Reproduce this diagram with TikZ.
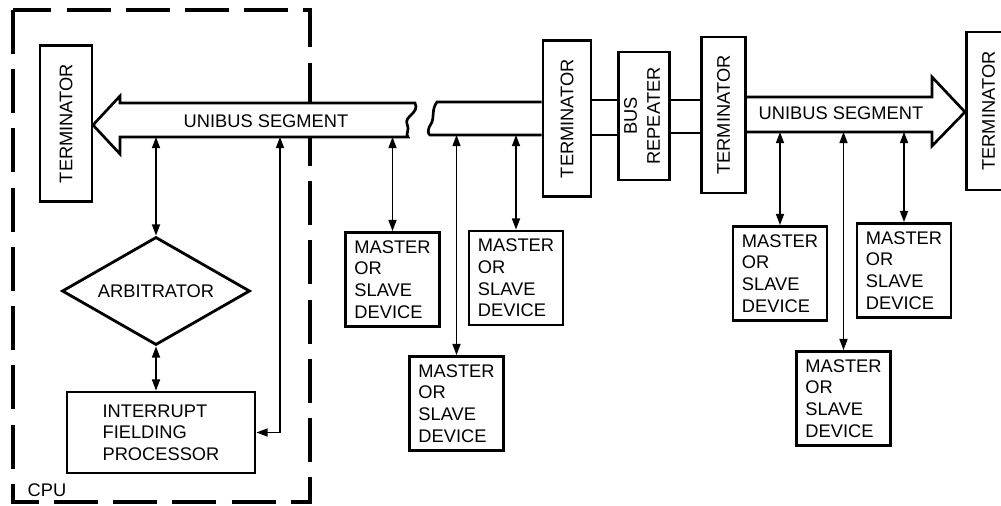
\documentclass[tikz,border=0pt]{standalone}
\usepackage{fontspec}
\setmainfont{Liberation Sans}
\usepackage{graphicx}
\usetikzlibrary{shapes.geometric,arrows.meta}

\tikzset{
  box/.style={draw, line width=2pt, fill=white, inner sep=2pt},
  term/.style={box, minimum width=1.2cm, minimum height=3.9cm},
  dev/.style={box, align=left, minimum width=2.35cm, minimum height=2.35cm},
  tap/.style={line width=1.2pt, {Triangle[length=2.8mm,width=2mm]}-{Triangle[length=2.8mm,width=2mm]}},
  bus/.style={line width=1.9pt, line join=miter},
}

\begin{document}
\begin{tikzpicture}[x=0.025cm, y=-0.025cm, font=\fontsize{13}{15.4}\selectfont]
        \useasboundingbox (0,0) rectangle (1001,506);

        % rails of the three bus pieces
        \coordinate (b1) at (0,137);
        \coordinate (rt2) at (0,102);
        \coordinate (b2) at (0,135);
        \coordinate (rt3) at (0,97);
        \coordinate (b3) at (0,132);

        % 1. CPU box
        \draw[line width=2.8pt, dash pattern=on 1.1cm off 0.38cm] (13,10) rectangle (310,502);
        \node (cpu) at (47,490) {CPU};

        % left UNIBUS segment (arrow with broken end)
        \draw[bus, fill=white] (93,125) -- (120,96) -- (120,103) -- (415,103)
            .. controls (420,113) and (404,116) .. (407,124)
            .. controls (410,131) and (405,134) .. (408,137) -- (120,137) -- (120,154) -- cycle;
        \node (seg1) at (266,121) {UNIBUS SEGMENT};

        \node (term1) at (66,123.5) [term, minimum width=1.3cm] {\rotatebox{90}{TERMINATOR}};
        \node (arb) at (156,291) [diamond, draw, line width=2pt, aspect=1.74, minimum width=4.7cm, minimum height=2.7cm, inner sep=0pt] {ARBITRATOR};
        \node (ifp) at (161,432.5) [box, align=left, minimum width=4.7cm, minimum height=2.02cm] {INTERRUPT\\FIELDING\\PROCESSOR};

        % CPU connections
        \coordinate (t2) at (280,137);
        \draw[tap] (arb.north |- b1) -- (arb.north);
        \draw[tap] (arb.south) -- (arb.south |- ifp.north);
        \draw[tap] (t2) |- (ifp.east);

        % 2. Terminators and repeater
        \node (term2) at (567,118.5) [term] {\rotatebox{90}{TERMINATOR}};
        \node (rep) at (644,116) [box, minimum width=1.2cm, minimum height=3.2cm] {\rotatebox{90}{\begin{tabular}{@{}c@{}}BUS\\[1pt]REPEATER\end{tabular}}};
        \node (term3) at (723.5,115) [term, minimum width=1.1cm] {\rotatebox{90}{TERMINATOR}};
        \node (term4) at (988.5,111) [term, minimum width=1.1cm, minimum height=3.95cm] {\rotatebox{90}{TERMINATOR}};

        % middle bus piece and links through the repeater
        \draw[bus] (term2.west |- rt2) -- (437,102)
            .. controls (431,110) and (435,117) .. (431,124)
            .. controls (427,130) and (428,134) .. (430,135) -- (term2.west |- b2);
        \draw[bus] (term2.east |- 0,100) -- (rep.west |- 0,100);
        \draw[bus] (term2.east |- b2) -- (rep.west |- b2);
        \draw[bus] (rep.east |- 0,100) -- (term3.west |- 0,100);
        \draw[bus] (rep.east |- 0,133) -- (term3.west |- 0,133);

        % right UNIBUS segment
        \draw[bus] (term3.east |- rt3) -- (932,97) -- (932,77) -- (965,112) -- (932,146) -- (932,132) -- (term3.east |- b3);
        \node (seg2) at (841,113) {UNIBUS SEGMENT};

        % 3. Devices
        \node (m1) at (392.5,279.5) [dev] {MASTER\\OR\\SLAVE\\DEVICE};
        \node (m2) at (516,278) [dev] {MASTER\\OR\\SLAVE\\DEVICE};
        \node (m3) at (456.5,403.5) [dev] {MASTER\\OR\\SLAVE\\DEVICE};
        \node (m4) at (780,273.5) [dev] {MASTER\\OR\\SLAVE\\DEVICE};
        \node (m5) at (904,270.5) [dev] {MASTER\\OR\\SLAVE\\DEVICE};
        \node (m6) at (843.5,398.5) [dev] {MASTER\\OR\\SLAVE\\DEVICE};

        % device taps
        \draw[tap] (m1.north |- b1) -- (m1.north);
        \draw[tap] (m2.north |- b2) -- (m2.north);
        \draw[tap] (m3.north |- b2) -- (m3.north);
        \draw[tap] (m4.north |- b3) -- (m4.north);
        \draw[tap] (m5.north |- b3) -- (m5.north);
        \draw[tap] (m6.north |- b3) -- (m6.north);

\end{tikzpicture}
\end{document}
